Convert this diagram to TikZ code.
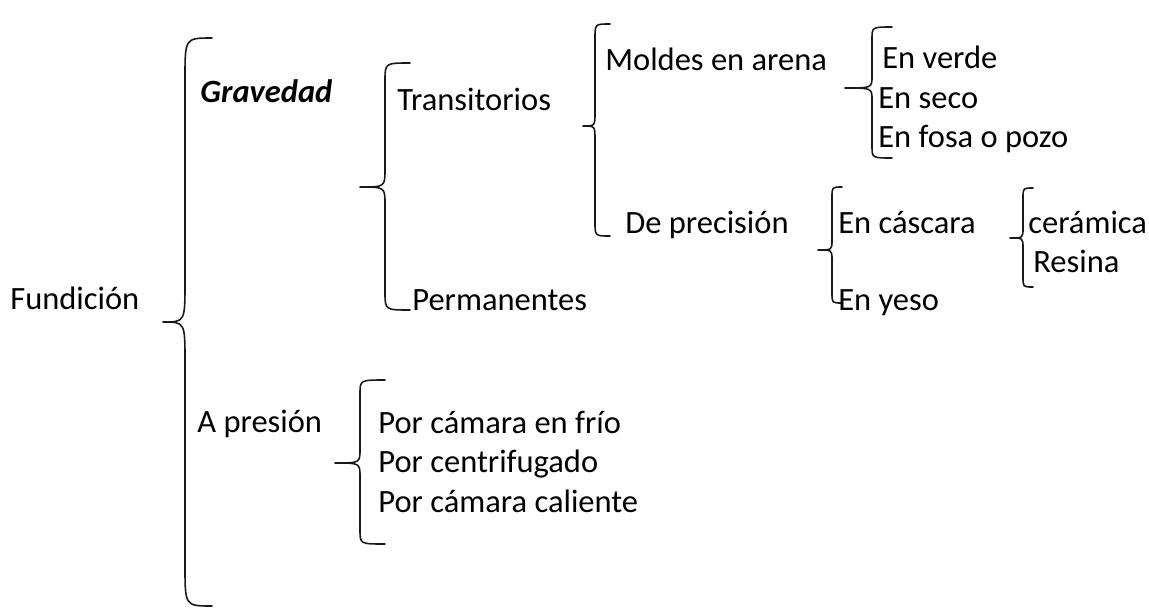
\documentclass[tikz,border=0pt]{standalone}
\usepackage{fontspec}
\setmainfont{Carlito}
\tikzset{
  etiq/.style={anchor=base west, inner sep=0pt, font=\fontsize{18.5}{20}\selectfont},
  llavelinea/.style={line width=0.9pt, black!90}
}
% #1 x of the bar, #2 top, #3 tip, #4 bottom, #5 hook width, #6 tip width, #7 curve length
\newcommand{\llave}[7]{%
  \draw[llavelinea] ({#1+#5},{#2}) .. controls ({#1},{#2}) .. ({#1},{#2+#7})
    -- ({#1},{#3-#7}) .. controls ({#1},{#3}) .. ({#1-#6},{#3})
    .. controls ({#1},{#3}) .. ({#1},{#3+#7})
    -- ({#1},{#4-#7}) .. controls ({#1},{#4}) .. ({#1+#5},{#4});}
\begin{document}
\begin{tikzpicture}[x=0.02cm, y=-0.02cm, line join=round, line cap=round]
				\useasboundingbox (0,0) rectangle (1149,609);
				% first level
				\node[etiq] (fund) at (10,309) {Fundición};
				\llave{185}{38}{322}{606}{27}{22}{40}
				\node[etiq, font=\fontsize{18.5}{20}\selectfont\bfseries\itshape] (grav) at (200,102) {Gravedad};
				\node[etiq] (pres) at (197,432) {A presión};
				
				% gravedad
				\llave{385}{63}{187}{310}{25}{25}{18}
				\node[etiq] (trans) at (397,110) {Transitorios};
				\node[etiq] (perm) at (412,310) {Permanentes};
				
				\llave{595}{24}{126}{236}{15}{12}{14}
				\node[etiq] (moldes) at (605,70) {Moldes en arena};
				\node[etiq] (prec) at (625,233) {De precisión};
				
				\llave{872}{27}{88}{158}{20}{27}{12}
				\node[etiq] (verde) at (882,68) {En verde};
				\node[etiq] (seco) at (878,108) {En seco};
				\node[etiq] (fosa) at (878,147) {En fosa o pozo};
				
				\llave{832}{187}{250}{303}{10}{14}{10}
				\node[etiq] (cascara) at (838,233) {En cáscara};
				\node[etiq] (yeso) at (838,310) {En yeso};
				
				\llave{1023}{188}{238}{287}{10}{13}{10}
				\node[etiq] (ceram) at (1028,233) {cerámica};
				\node[etiq] (resina) at (1033,272) {Resina};
				
				% a presion
				\llave{360}{380}{463}{544}{25}{25}{14}
				\node[etiq] (frio) at (378,433) {Por cámara en frío};
				\node[etiq] (centri) at (378,472) {Por centrifugado};
				\node[etiq] (caliente) at (378,512) {Por cámara caliente};
\end{tikzpicture}
\end{document}
